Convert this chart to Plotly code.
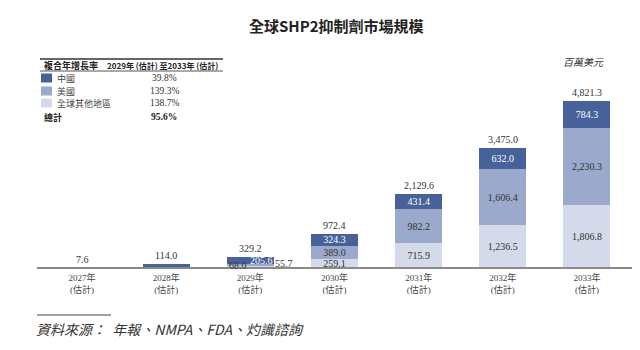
import plotly.graph_objects as go

# ---- data ----
years = ["2027年<br>(估計)", "2028年<br>(估計)", "2029年<br>(估計)", "2030年<br>(估計)",
         "2031年<br>(估計)", "2032年<br>(估計)", "2033年<br>(估計)"]
china = [7.6, 114.0, 205.6, 324.3, 431.4, 632.0, 784.3]
usa = [0, 0, 68.0, 389.0, 982.2, 1606.4, 2230.3]
rest = [0, 0, 55.7, 259.1, 715.9, 1236.5, 1806.8]
totals = [7.6, 114.0, 329.2, 972.4, 2129.6, 3475.0, 4821.3]

china_lbl = ["", "", "", "324.3", "431.4", "632.0", "784.3"]
usa_lbl = ["", "", "", "389.0", "982.2", "1,606.4", "2,230.3"]
rest_lbl = ["", "", "", "259.1", "715.9", "1,236.5", "1,806.8"]
total_lbl = ["7.6", "114.0", "329.2", "972.4", "2,129.6", "3,475.0", "4,821.3"]

table_regions = ["中國", "美國", "全球其他地區"]
table_cagr = ["39.8%", "139.3%", "138.7%"]
table_total = "95.6%"

C_DARK = "#47619a"
C_MID = "#9ba9cc"
C_LIGHT = "#d4dae9"
TXT = "#333333"
SERIF = "Liberation Serif, Noto Sans CJK TC, serif"
CJK = "Noto Sans CJK TC, Liberation Serif, serif"

W, H = 640, 350
ML, MR, MT, MB = 40, 11, 60, 82
PW, PH = W - ML - MR, H - MT - MB


def px(x):
    return (x - ML) / PW


def py(y):
    return (H - MB - y) / PH


fig = go.Figure()
for vals, lbls, col, tcol, nm in [(rest, rest_lbl, C_LIGHT, TXT, "全球其他地區"),
                                  (usa, usa_lbl, C_MID, TXT, "美國"),
                                  (china, china_lbl, C_DARK, "white", "中國")]:
    fig.add_bar(x=years, y=vals, marker_color=col, marker_line_width=0, name=nm,
                text=lbls, textposition="inside", insidetextanchor="middle",
                constraintext="none", textangle=0,
                textfont=dict(color=tcol, size=10, family=SERIF), hoverinfo="skip")

ann = []


def note(x, y, text, size, color, family, xanchor="center", xref="paper", yref="paper", **kw):
    ann.append(dict(xref=xref, yref=yref, x=x, y=y, text=text, showarrow=False,
                    xanchor=xanchor, yanchor=kw.pop("yanchor", "middle"),
                    font=dict(size=size, color=color, family=family), **kw))


# totals above bars
for xv, tv, tl in zip(years, totals, total_lbl):
    note(xv, tv, tl, 10, TXT, SERIF, xref="x", yref="y", yanchor="bottom", yshift=1)
# 2029 small bar labels
note(years[2], 0, f"{usa[2]:.1f}", 10, TXT, SERIF, xref="x", yref="y", xshift=-12, yshift=3)
note(years[2], 0, f"{china[2]:.1f}", 10, "white", SERIF, xref="x", yref="y", xshift=11, yshift=8)
note(years[2], 0, f"{rest[2]:.1f}", 10, TXT, SERIF, xref="x", yref="y", xshift=34, yshift=5)

# title
note(px(336), py(26), "<b>全球SHP2抑制劑市場規模</b>", 15, "#222", CJK)
# unit
note(px(583), py(62), "<i>百萬美元</i>", 10, TXT, CJK)
# table header
note(px(42), py(65), "<b>複合年增長率</b>", 9, "#222", CJK, xanchor="left")
note(px(162), py(65), "<b>2029年 (估計) 至2033年 (估計)</b>", 8, "#222", CJK)
row_y = [78, 91, 103]
sw_col = [C_DARK, C_MID, C_LIGHT]
shapes = []
for ry, rn, rc, col in zip(row_y, table_regions, table_cagr, sw_col):
    shapes.append(dict(type="rect", xref="paper", yref="paper", x0=px(41), x1=px(52),
                       y0=py(ry + 4.5), y1=py(ry - 4.5), fillcolor=col, line_width=0))
    note(px(55), py(ry), rn, 9, "#444", CJK, xanchor="left")
    note(px(164), py(ry), rc, 9.5, TXT, SERIF)
note(px(42), py(117), "<b>總計</b>", 9, "#222", CJK, xanchor="left")
note(px(164), py(117), "<b>" + table_total + "</b>", 9.5, "#222", SERIF)
# table lines
shapes.append(dict(type="line", xref="paper", yref="paper", x0=px(40), x1=px(223), y0=py(59), y1=py(59),
                   line=dict(color="#333", width=1.5)))
shapes.append(dict(type="line", xref="paper", yref="paper", x0=px(40), x1=px(223), y0=py(71), y1=py(71),
                   line=dict(color="#555", width=1)))
# axis baseline
shapes.append(dict(type="line", xref="paper", yref="paper", x0=px(37), x1=px(632), y0=0, y1=0,
                   line=dict(color="#8a8a8a", width=2)))
# source
shapes.append(dict(type="line", xref="paper", yref="paper", x0=px(37), x1=px(111), y0=py(315), y1=py(315),
                   line=dict(color="#444", width=1)))
note(px(34), py(329), "<i>資料來源：  年報、NMPA、FDA、灼識諮詢</i>", 14, "#333", CJK, xanchor="left")

fig.update_layout(
    width=W, height=H, margin=dict(l=ML, r=MR, t=MT, b=MB),
    barmode="stack", bargap=0.44, showlegend=False,
    plot_bgcolor="white", paper_bgcolor="white",
    annotations=ann, shapes=shapes,
)
fig.update_xaxes(showgrid=False, showline=False, zeroline=False, ticks="",
                 ticklabelstandoff=3,
                 tickfont=dict(size=9, color="#444", family=SERIF))
fig.update_yaxes(range=[0, 6000], visible=False, showgrid=False, zeroline=False)

fig.write_html("out.html")
